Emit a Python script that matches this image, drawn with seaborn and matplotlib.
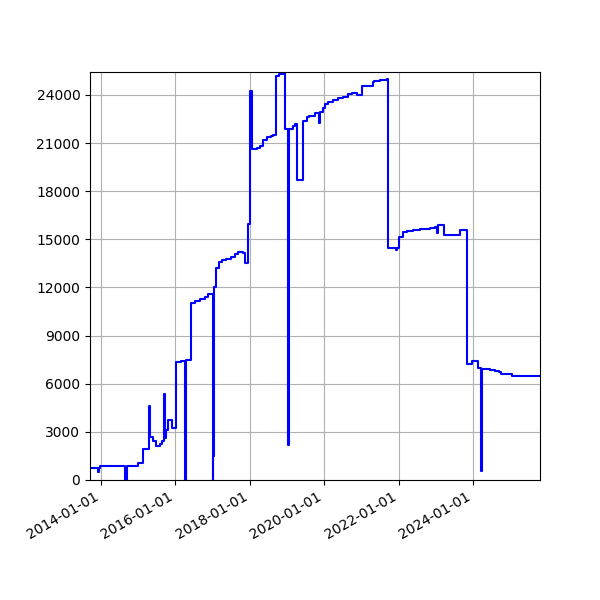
import matplotlib
matplotlib.use("Agg")
import matplotlib.pyplot as plt
import matplotlib.dates as mdates
from matplotlib.ticker import MultipleLocator
import pandas as pd
import seaborn as sns

dates = [
    "2013-09-15", "2013-12-03", "2013-12-12", "2013-12-22", "2014-08-24", "2014-09-18",
    "2014-12-30", "2015-02-17", "2015-04-17", "2015-05-02", "2015-05-27", "2015-06-25",
    "2015-08-03", "2015-08-23", "2015-09-07", "2015-09-17", "2015-10-01", "2015-10-21",
    "2015-11-29", "2016-01-07", "2016-02-26", "2016-03-31", "2016-04-15", "2016-05-31",
    "2016-07-12", "2016-08-30", "2016-10-18", "2016-11-17", "2016-12-31", "2017-01-08",
    "2017-01-18", "2017-01-30", "2017-02-08", "2017-03-05", "2017-04-03", "2017-05-13",
    "2017-06-28", "2017-08-09", "2017-09-11", "2017-10-24", "2017-11-15", "2017-12-18",
    "2018-01-08", "2018-01-18", "2018-03-10", "2018-04-12", "2018-05-14", "2018-06-17",
    "2018-07-26", "2018-08-14", "2018-09-20", "2018-10-18", "2018-11-26", "2018-12-13",
    "2019-01-09", "2019-01-17", "2019-02-27", "2019-03-22", "2019-04-13", "2019-06-12",
    "2019-07-15", "2019-08-09", "2019-10-04", "2019-11-15", "2019-11-22", "2019-12-19",
    "2020-01-10", "2020-02-12", "2020-04-01", "2020-05-20", "2020-07-08", "2020-08-26",
    "2020-09-29", "2020-11-23", "2021-01-05", "2021-04-23", "2021-05-06", "2021-07-04",
    "2021-09-13", "2021-09-23", "2021-12-08", "2021-12-18", "2022-01-09", "2022-02-17",
    "2022-03-23", "2022-05-27", "2022-08-01", "2022-11-08", "2022-12-27", "2023-01-18",
    "2023-01-28", "2023-03-25", "2023-08-29", "2023-11-03", "2023-12-22", "2024-02-25",
    "2024-03-18", "2024-03-26", "2024-06-19", "2024-08-07", "2024-09-09", "2024-10-02",
    "2025-01-18", "2025-10-21",
]
values = [
    760, 480, 760, 850, 0, 850,
    1040, 1930, 4610, 2700, 2430, 2140,
    2220, 2410, 5340, 2600, 3120, 3740,
    3260, 7340, 7400, 0, 7480, 11010,
    11160, 11280, 11420, 11610, 0, 1500,
    12000, 13090, 13240, 13610, 13720, 13800,
    13920, 14090, 14210, 14170, 13550, 15940,
    24250, 20620, 20680, 20820, 21200, 21360,
    21440, 21510, 25190, 25310, 25360, 21860,
    2200, 21860, 22070, 22170, 18700, 22380,
    22650, 22710, 22860, 22240, 22960, 23170,
    23420, 23580, 23690, 23790, 23900, 24040,
    24100, 24000, 24560, 24790, 24890, 24940,
    25000, 14480, 14340, 14480, 15150, 15460,
    15520, 15580, 15640, 15720, 15790, 15380,
    15900, 15250, 15590, 7210, 7400, 6960,
    580, 6900, 6860, 6820, 6710, 6610,
    6500, 6500,
]
ytick_step = 3000

df = pd.DataFrame({"date": pd.to_datetime(dates), "value": values})

fig, ax = plt.subplots(figsize=(6, 6), dpi=100)
sns.lineplot(data=df, x="date", y="value", ax=ax, color="blue",
             drawstyle="steps-post", linewidth=1.5, estimator=None)
ax.set(xlabel="", ylabel="")
ax.grid(True)
ax.set_xlim(df["date"].min(), df["date"].max())
ax.set_ylim(0, 25430)
ax.yaxis.set_major_locator(MultipleLocator(ytick_step))
ax.xaxis.set_major_locator(mdates.YearLocator(2))
ax.xaxis.set_major_formatter(mdates.DateFormatter("%Y-%m-%d"))
fig.autofmt_xdate()
fig.subplots_adjust(left=0.15, right=0.9, bottom=0.2, top=0.88)
fig.savefig("out.png", dpi=100)
